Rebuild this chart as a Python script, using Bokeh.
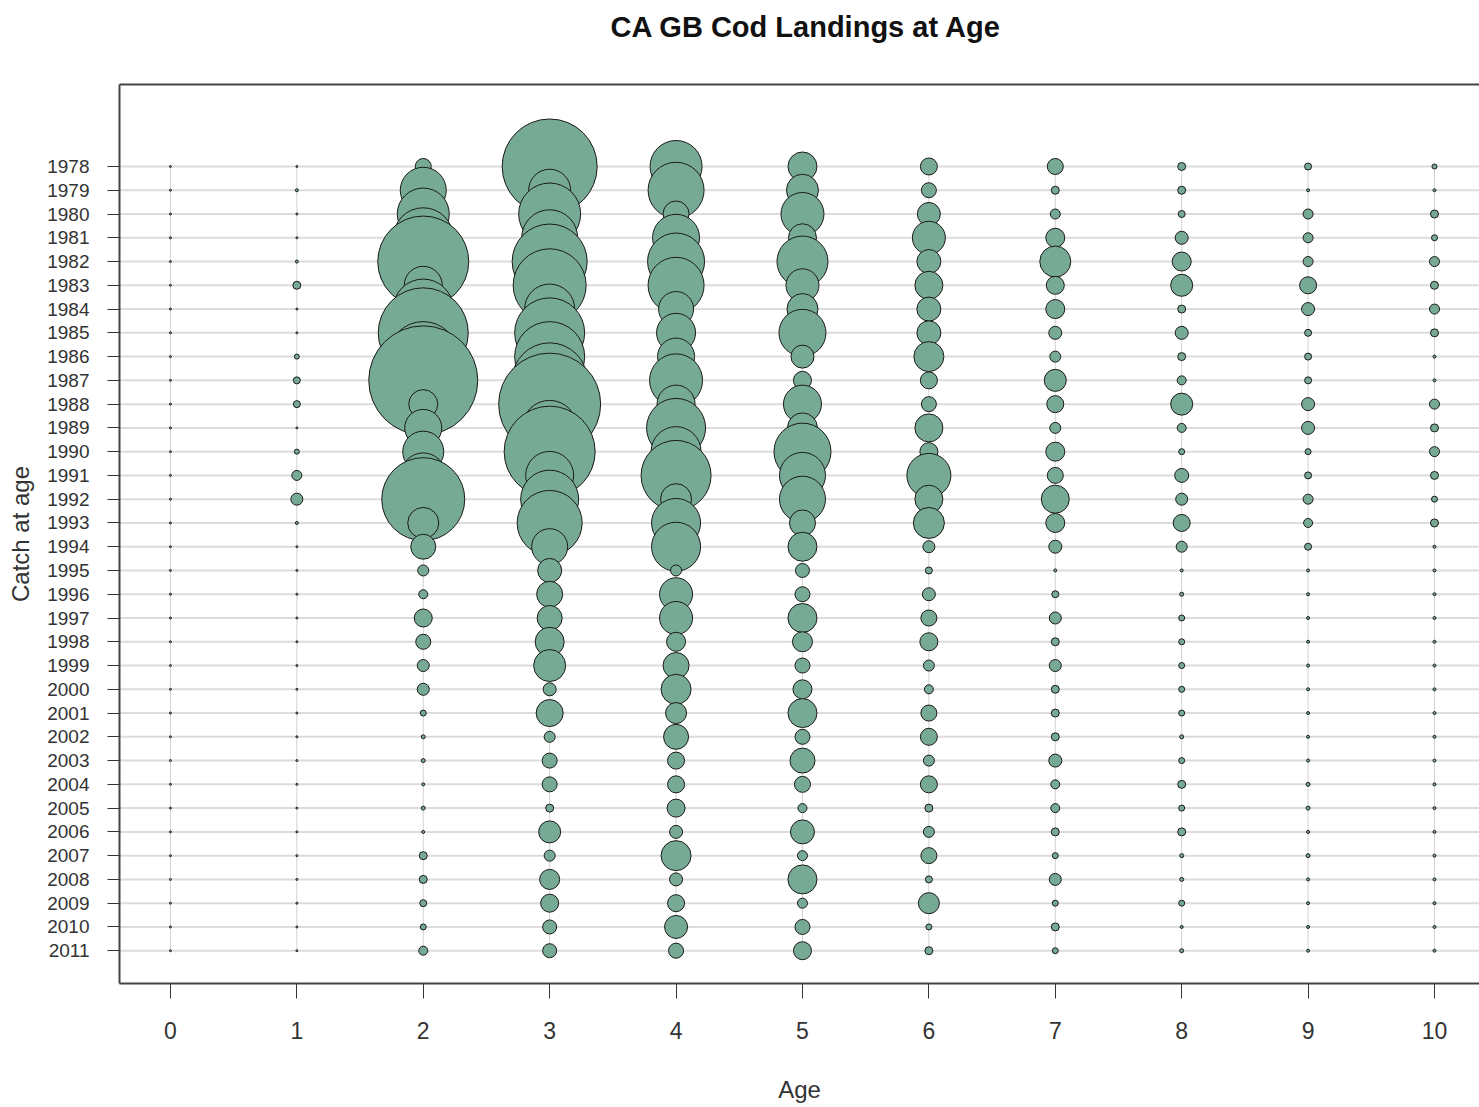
import math
from bokeh.plotting import figure
from bokeh.models import Range1d, FixedTicker, LinearAxis, ColumnDataSource
from bokeh.embed import file_html
from bokeh.resources import INLINE

# ---------------- data ----------------
years = list(range(1978, 2012))
ages = list(range(0, 11))

# landings at age (relative units, bubble area proportional to value), 1978..2011
age0 = [4, 4, 4, 4, 4, 4, 4, 4, 4, 4, 4, 4, 4, 4, 4, 4, 4,
        4, 4, 4, 4, 4, 4, 4, 4, 4, 4, 4, 4, 4, 4, 4, 4, 4]
age1 = [4, 9, 4, 4, 9, 64, 4, 4, 25, 49, 49, 4, 25, 100, 144, 9, 4,
        4, 4, 4, 4, 4, 4, 4, 4, 4, 4, 4, 4, 4, 4, 4, 4, 4]
age2 = [256, 2116, 2704, 3600, 8281, 1444, 3600, 8100, 4900, 11881, 841, 1369, 1681, 2025, 6889, 961, 625,
        121, 81, 324, 225, 144, 144, 36, 16, 16, 9, 16, 9, 64, 64, 49, 36, 81]
age3 = [9025, 1764, 3844, 3136, 5625, 5329, 2500, 4900, 4900, 5625, 10404, 3025, 8281, 2304, 3364, 4225, 1296,
        576, 676, 625, 841, 1024, 169, 729, 121, 225, 225, 64, 484, 121, 400, 324, 196, 196]
age4 = [2704, 3136, 676, 2209, 3249, 3136, 1225, 1521, 1369, 2809, 1444, 3481, 2500, 4900, 961, 2401, 2401,
        121, 1089, 1089, 361, 676, 900, 441, 625, 289, 289, 324, 169, 900, 169, 289, 529, 225]
age5 = [841, 1024, 1849, 784, 2601, 1089, 961, 2209, 529, 324, 1444, 900, 3249, 2116, 2116, 676, 841,
        196, 225, 841, 400, 225, 361, 841, 225, 625, 256, 81, 576, 100, 841, 100, 225, 324]
age6 = [289, 225, 529, 1089, 576, 784, 576, 576, 900, 289, 225, 784, 324, 1936, 784, 961, 144,
        49, 169, 256, 324, 121, 81, 256, 289, 121, 289, 64, 121, 256, 49, 441, 36, 64]
age7 = [256, 64, 100, 361, 961, 324, 361, 169, 121, 484, 289, 121, 361, 256, 784, 361, 169,
        9, 49, 144, 64, 144, 64, 64, 64, 169, 81, 81, 64, 36, 144, 36, 64, 36]
age8 = [64, 64, 49, 169, 361, 484, 64, 169, 64, 81, 484, 81, 36, 196, 144, 289, 121,
        9, 16, 36, 36, 36, 36, 36, 16, 36, 64, 36, 64, 16, 16, 36, 9, 16]
age9 = [49, 9, 100, 100, 100, 289, 169, 49, 49, 49, 169, 169, 36, 49, 100, 81, 49,
        9, 9, 9, 9, 9, 9, 9, 9, 9, 16, 16, 9, 16, 9, 9, 9, 9]
age10 = [25, 9, 64, 36, 100, 64, 100, 64, 9, 9, 100, 64, 100, 64, 36, 64, 9,
         9, 9, 9, 9, 9, 9, 9, 9, 9, 9, 9, 9, 9, 9, 9, 9, 9]

landings = [age0, age1, age2, age3, age4, age5, age6, age7, age8, age9, age10]

title_text = "CA GB Cod Landings at Age"
x_label = "Age"
y_label = "Catch at age"

# ---------------- build ----------------
SIZE_SCALE = 1.0
xs, ys, vals, sizes = [], [], [], []
for a, col in zip(ages, landings):
    for yr, v in zip(years, col):
        xs.append(a)
        ys.append(yr)
        vals.append(v)
        sizes.append(SIZE_SCALE * math.sqrt(v))

src = ColumnDataSource(dict(age=xs, year=ys, value=vals, size=sizes))

FONT = "Liberation Sans"
X0, X1 = -0.403, 10.356

p = figure(width=1479, height=1105, output_backend="svg", toolbar_location=None,
           x_range=Range1d(X0, X1), y_range=Range1d(2012.38, 1974.55),
           min_border_left=119, min_border_top=84, min_border_bottom=121, min_border_right=0,
           x_axis_location=None, y_axis_location=None)
p.outline_line_color = None
p.background_fill_color = "white"
p.border_fill_color = "white"

p.title.text = title_text
p.title.text_font = FONT
p.title.text_font_size = "29px"
p.title.text_font_style = "bold"
p.title.text_color = "#111111"
p.title.align = "left"
p.title.offset = 491
p.title.vertical_align = "bottom"
p.title.standoff = 0

# axes
xaxis = LinearAxis(ticker=FixedTicker(ticks=ages), axis_label=x_label)
yaxis = LinearAxis(ticker=FixedTicker(ticks=years), axis_label=y_label)
topaxis = LinearAxis(ticker=FixedTicker(ticks=[]))
for ax in (xaxis, yaxis, topaxis):
    ax.axis_line_color = "#444444"
    ax.axis_line_width = 2
    ax.major_tick_line_color = "#333333"
    ax.major_tick_line_width = 1
    ax.minor_tick_line_color = None
    ax.major_tick_in = 0
    ax.major_label_text_font = FONT
    ax.major_label_text_color = "#333333"
    ax.axis_label_text_font = FONT
    ax.axis_label_text_font_style = "normal"
    ax.axis_label_text_color = "#333333"

xaxis.major_tick_out = 15
xaxis.major_label_standoff = 23
xaxis.major_label_text_font_size = "23px"
xaxis.axis_label_text_font_size = "24px"
xaxis.axis_label_standoff = 34

yaxis.major_tick_out = 12
yaxis.major_label_standoff = 18
yaxis.major_label_text_font_size = "19px"
yaxis.axis_label_text_font_size = "24px"
yaxis.axis_label_standoff = 10

# top frame line; its empty label reserves the gap between frame and title
topaxis.major_tick_out = 0
topaxis.major_label_standoff = 0
topaxis.major_label_text_font_size = "0px"
topaxis.axis_label = " "
topaxis.axis_label_text_font_size = "24px"
topaxis.axis_label_standoff = 12

p.add_layout(xaxis, "below")
p.add_layout(yaxis, "left")
p.add_layout(topaxis, "above")

p.xgrid.visible = False
p.ygrid.visible = False

# horizontal grid lines at each year (full width)
p.segment(x0=[X0] * len(years), y0=years, x1=[X1] * len(years), y1=years,
          line_color="#dcdcdc", line_width=2)
# vertical guide lines at each age
p.segment(x0=ages, y0=[years[0]] * len(ages), x1=ages, y1=[years[-1]] * len(ages),
          line_color="#d2d2d2", line_width=1)

p.scatter(x="age", y="year", size="size", source=src, marker="circle",
          fill_color="#77aa95", line_color="#1a1a1a", line_width=1)

open("out.html", "w").write(file_html(p, INLINE))
